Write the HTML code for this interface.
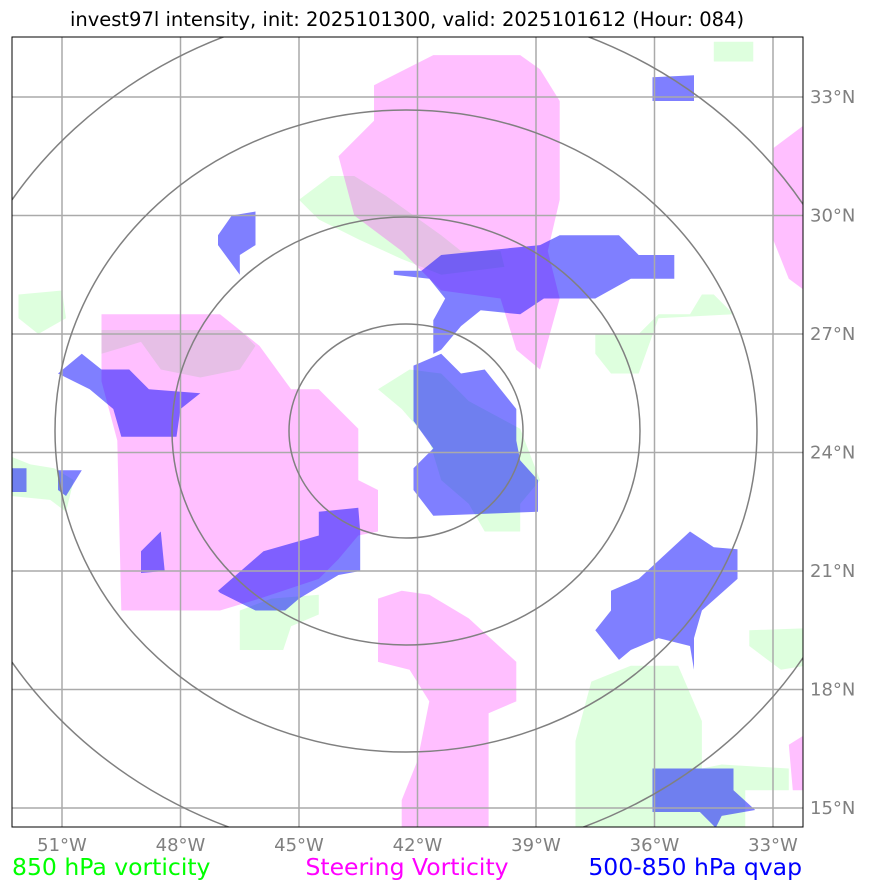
<!DOCTYPE html>
<html><head><meta charset="utf-8"><style>
html,body{margin:0;padding:0;background:#fff;}
svg{display:block;font-family:"DejaVu Sans","Liberation Sans",sans-serif;}
</style></head><body>
<svg id="chart" width="873" height="891" viewBox="0 0 873 891" xmlns="http://www.w3.org/2000/svg">
<defs><clipPath id="clip"><rect x="12" y="37" width="791" height="790"/></clipPath></defs>
<text x="407" y="26" text-anchor="middle" font-size="19.5" fill="#000">invest97l intensity, init: 2025101300, valid: 2025101612 (Hour: 084)</text>
<g id="plot" clip-path="url(#clip)"></g>
<rect x="12" y="37" width="791" height="790" fill="none" stroke="#000" stroke-width="1"/>
<g id="ticks"></g>
<text x="12" y="875" font-size="23.5" fill="#00ff00">850 hPa vorticity</text>
<text x="407" y="875" text-anchor="middle" font-size="23.5" fill="#ff00ff">Steering Vorticity</text>
<text x="802" y="875" text-anchor="end" font-size="23.5" fill="#0000ff">500-850 hPa qvap</text>
</svg>
<script>
const lonTicks=[-51,-48,-45,-42,-39,-36,-33];
const latTicks=[15,18,21,24,27,30,33];
const ringRadii=[1,2,3,4];
const greenShapes=[
[[-45,30.4],[-44.2,31],[-43.6,31],[-42.8,30.5],[-41.4,29.5],[-40.9,29.1],[-39.9,29.1],[-39.8,28.7],[-41.4,28.5],[-42.4,28.9],[-43.5,29.4],[-44.5,29.9]],
[[-34.5,34.4],[-33.5,34.4],[-33.5,33.9],[-34.5,33.9]],
[[-52.1,28],[-51,28.1],[-50.9,27.4],[-51.6,27],[-52.1,27.4]],
[[-50,27.1],[-46.5,27.1],[-46.1,26.7],[-46.5,26.1],[-47.5,25.9],[-48.5,26.1],[-49,26.8],[-50,26.5]],
[[-52.3,23.9],[-51.8,23.7],[-51.2,23.6],[-50.7,23.3],[-50.9,22.5],[-51.3,22.8],[-52.3,22.9]],
[[-43,25.6],[-42.2,26.1],[-41.4,26],[-40.7,25.3],[-39.4,24.6],[-38.9,23.3],[-39.4,22.7],[-39.4,22],[-40.3,22],[-40.7,22.7],[-41.4,23.3],[-41.7,24.3],[-42.4,25.1]],
[[-46.5,20],[-45.7,20.3],[-44.5,20.4],[-44.5,19.9],[-45.2,19.6],[-45.4,19],[-46.5,19]],
[[-37.5,27],[-36.4,27],[-35.9,27.5],[-35.1,27.5],[-34.8,28],[-34.5,28],[-34,27.5],[-35.9,27.4],[-36.4,26],[-37.1,26],[-37.5,26.5]],
[[-37.6,18.2],[-36.6,18.6],[-35.4,18.6],[-34.8,17.2],[-34.8,16],[-34.3,16.1],[-32.6,16],[-32.6,15.45],[-33.7,15.45],[-33.7,14.5],[-38,14.5],[-38,16.7]],
[[-33.6,19.5],[-32.2,19.55],[-32.2,18.6],[-32.8,18.5],[-33.6,19.1]]
];
const pinkShapes=[
[[-43.1,33.3],[-41.6,34.06],[-39.4,34.06],[-38.9,33.7],[-38.4,32.9],[-38.4,30.4],[-38.7,29.1],[-38.4,27.9],[-38.9,26.1],[-39.5,26.6],[-39.9,27.9],[-41.4,28.1],[-42.4,29.1],[-43.6,30],[-44,31.5],[-43.1,32.4]],
[[-50,27.5],[-47,27.5],[-46,26.7],[-45.2,25.6],[-44.5,25.6],[-43.5,24.6],[-43.5,23.3],[-43,23.05],[-43,22],[-43.5,21.9],[-44,21.3],[-44.5,20.8],[-46,20.3],[-47,20],[-49.5,20],[-49.6,24.3],[-50,25.8]],
[[-43,20.3],[-42.4,20.5],[-41.7,20.4],[-40.7,19.8],[-39.5,18.7],[-39.5,17.7],[-40.2,17.4],[-40.2,14.5],[-42.4,14.5],[-42.4,15.2],[-42,16.2],[-41.7,17.7],[-42.2,18.5],[-43,18.7]],
[[-33,31.7],[-32.2,32.3],[-32.2,28.1],[-32.6,28.4],[-33,29.4]],
[[-32.6,16.6],[-32.2,16.85],[-32.2,15.45],[-32.5,15.45]]
];
const blueShapes=[
[[-42.6,28.6],[-41.9,28.6],[-41.4,29],[-38.9,29.25],[-38.4,29.5],[-36.9,29.5],[-36.4,29],[-35.5,29],[-35.5,28.4],[-36.6,28.4],[-37.5,27.9],[-38.8,27.9],[-39.4,27.5],[-40.4,27.6],[-40.9,27.2],[-41.4,26.6],[-41.6,26.5],[-41.6,27.35],[-41.3,27.9],[-41.7,28.4],[-42.6,28.5]],
[[-42.1,26.2],[-41.4,26.5],[-40.9,26],[-40.3,26.1],[-39.5,25.1],[-39.5,24.3],[-39.4,23.8],[-38.95,23.3],[-38.95,22.5],[-41.6,22.4],[-42.1,23.05],[-42.1,23.6],[-41.6,24.1],[-42.1,24.8]],
[[-47.05,29.5],[-46.7,30],[-46.1,30.1],[-46.1,29.25],[-46.5,29],[-46.5,28.5],[-47.05,29.25]],
[[-51.1,26],[-50.5,26.5],[-50,26.1],[-49.3,26.1],[-48.8,25.6],[-47.5,25.5],[-48,25.1],[-48.1,24.4],[-49.5,24.4],[-49.7,25.1],[-50.3,25.6]],
[[-52.3,23.6],[-51.9,23.6],[-51.9,23],[-52.3,23]],
[[-51.1,23.55],[-50.5,23.55],[-50.9,22.9],[-51.1,23.05]],
[[-49,21.5],[-48.5,22],[-48.4,21],[-49,20.95]],
[[-47.05,20.5],[-45.9,21.5],[-44.5,21.9],[-44.5,22.5],[-43.5,22.6],[-43.45,22],[-43.45,21],[-44,20.9],[-45,20.3],[-45.35,20],[-46.1,20],[-47,20.45]],
[[-37.5,19.5],[-37.1,20],[-37.1,20.5],[-36.4,20.8],[-35.1,22],[-34.5,21.6],[-33.9,21.55],[-33.9,20.8],[-34.8,20],[-35,19.3],[-35,18.5],[-35.1,19.1],[-35.9,19.3],[-36.6,19],[-36.9,18.75]],
[[-36.05,33.5],[-35,33.55],[-35,32.9],[-36.05,32.9]],
[[-36.05,16],[-34,16],[-34,15.45],[-33.45,14.95],[-34.3,14.8],[-34.45,14.5],[-34.85,14.9],[-36.05,14.9]]
];
const NS='http://www.w3.org/2000/svg';
const x0=62,y0=97,pxDeg=39.5;
function xs(lon){return x0+(lon+51)*pxDeg;}
function ys(lat){return y0+(33-lat)*pxDeg;}
const plot=document.getElementById('plot');
const ticks=document.getElementById('ticks');
function poly(pts,fill,op,name){
  const p=document.createElementNS(NS,'polygon');
  p.setAttribute('points',pts.map(q=>xs(q[0]).toFixed(1)+','+ys(q[1]).toFixed(1)).join(' '));
  p.setAttribute('fill',fill);p.setAttribute('fill-opacity',op);
  
  
  plot.appendChild(p);
}
greenShapes.forEach(s=>poly(s,'#00ff00',0.13,'vorticity-850-region'));
pinkShapes.forEach(s=>poly(s,'#ff00ff',0.25,'steering-vorticity-region'));
blueShapes.forEach(s=>poly(s,'#0000ff',0.5,'qvap-region'));
lonTicks.forEach(l=>{
  const ln=document.createElementNS(NS,'line');
  ln.setAttribute('x1',xs(l));ln.setAttribute('x2',xs(l));ln.setAttribute('y1',37);ln.setAttribute('y2',827);
  ln.setAttribute('stroke','#aaa');ln.setAttribute('stroke-width','1.5');
  
  
  plot.appendChild(ln);
  const t=document.createElementNS(NS,'text');
  t.setAttribute('x',xs(l));t.setAttribute('y',851);t.setAttribute('text-anchor','middle');
  t.setAttribute('font-size','18');t.setAttribute('fill','#808080');
  t.textContent=Math.abs(l)+'°W';
  
  
  ticks.appendChild(t);
});
latTicks.forEach(l=>{
  const ln=document.createElementNS(NS,'line');
  ln.setAttribute('y1',ys(l));ln.setAttribute('y2',ys(l));ln.setAttribute('x1',12);ln.setAttribute('x2',803);
  ln.setAttribute('stroke','#aaa');ln.setAttribute('stroke-width','1.5');
  
  
  plot.appendChild(ln);
  const t=document.createElementNS(NS,'text');
  t.setAttribute('x',810);t.setAttribute('y',ys(l)+6);
  t.setAttribute('font-size','18');t.setAttribute('fill','#808080');
  t.textContent=l+'°N';
  
  
  ticks.appendChild(t);
});
ringRadii.forEach(r=>{
  const e=document.createElementNS(NS,'ellipse');
  e.setAttribute('cx',406);e.setAttribute('cy',431);
  e.setAttribute('rx',117*r);e.setAttribute('ry',107*r);
  e.setAttribute('fill','none');e.setAttribute('stroke','#808080');e.setAttribute('stroke-width','1.5');
  
  
  plot.appendChild(e);
});
</script>
</body></html>
